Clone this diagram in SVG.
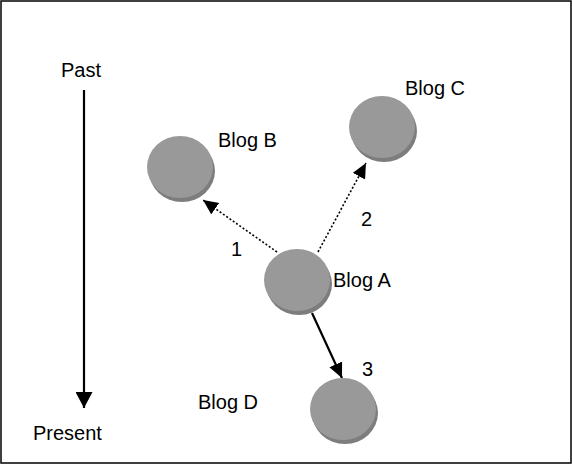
<svg xmlns="http://www.w3.org/2000/svg" width="572" height="464" viewBox="0 0 572 464">
<style>
text{font-family:"Liberation Sans",Arial,sans-serif;font-size:20px;fill:#000}
.disc{fill:#999999}
.shadow{fill:#7d7d7d}
.dot{stroke:#000;stroke-width:1.6;stroke-dasharray:2 2;fill:none}
.solid{stroke:#000;stroke-width:2.2;fill:none}
</style>
<defs>
<marker id="ah" markerUnits="userSpaceOnUse" markerWidth="16" markerHeight="15" refX="15" refY="7" orient="auto">
<path d="M0,0 L15,7 L0,14 z" fill="#000"/>
</marker>
<marker id="ah2" markerUnits="userSpaceOnUse" markerWidth="17" markerHeight="17" refX="16" refY="8.5" orient="auto">
<path d="M0,0 L16,8.5 L0,17 z" fill="#000"/>
</marker>
</defs>
<rect x="1" y="1" width="570" height="462" fill="#fff" stroke="#000" stroke-width="1.5"/>
<g id="timeline">
<line x1="84" y1="90" x2="84" y2="408" class="solid" stroke-width="2" marker-end="url(#ah2)"/>
<text x="61" y="77">Past</text>
<text x="33" y="440">Present</text>
</g>
<g id="connectors">
<line x1="277" y1="252" x2="203" y2="200" class="dot" marker-end="url(#ah)"/>
<line x1="318" y1="252" x2="366" y2="163" class="dot" marker-end="url(#ah)"/>
<line x1="312" y1="313" x2="342" y2="378" class="solid" marker-end="url(#ah)"/>
<text x="231" y="256">1</text>
<text x="361" y="226">2</text>
<text x="362" y="376">3</text>
</g>
<g id="blogB">
<ellipse cx="182" cy="171" rx="33" ry="31" class="shadow"/>
<ellipse cx="180" cy="167" rx="33" ry="31" class="disc"/>
<text x="218" y="147">Blog B</text>
</g>
<g id="blogC">
<ellipse cx="384" cy="131" rx="33" ry="31" class="shadow"/>
<ellipse cx="382" cy="127" rx="33" ry="31" class="disc"/>
<text x="405" y="95">Blog C</text>
</g>
<g id="blogA">
<ellipse cx="299" cy="284" rx="33" ry="31" class="shadow"/>
<ellipse cx="297" cy="280" rx="33" ry="31" class="disc"/>
<text x="333" y="287">Blog A</text>
</g>
<g id="blogD">
<ellipse cx="345" cy="413" rx="33" ry="31" class="shadow"/>
<ellipse cx="343" cy="409" rx="33" ry="31" class="disc"/>
<text x="198" y="409">Blog D</text>
</g>
</svg>
